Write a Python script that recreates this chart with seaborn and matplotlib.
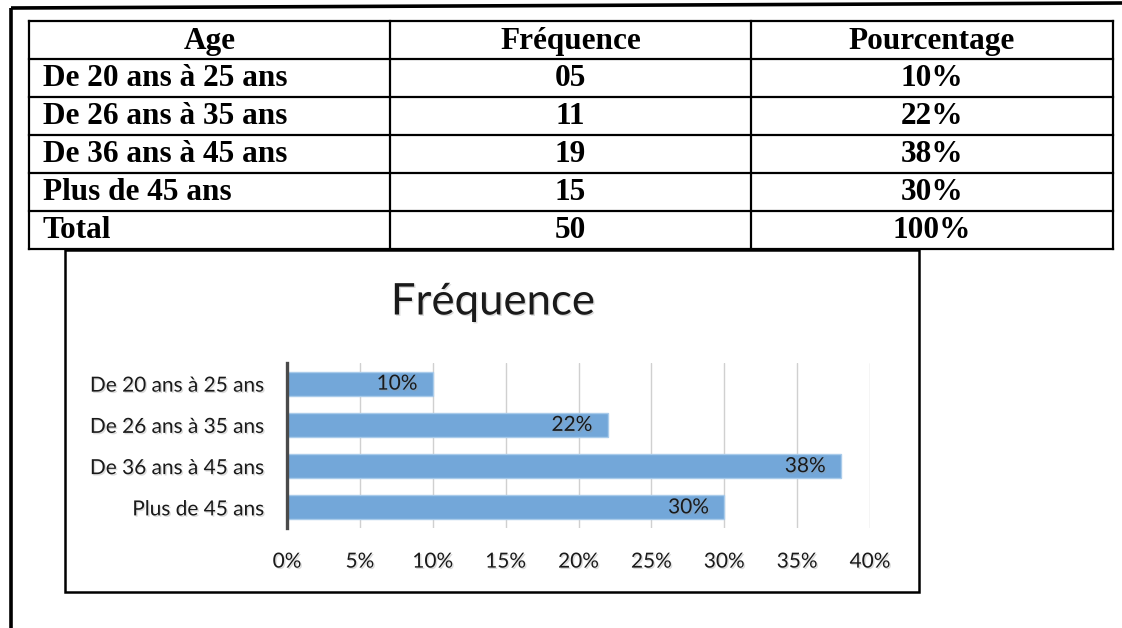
import matplotlib
matplotlib.use("Agg")
import matplotlib.pyplot as plt
import matplotlib.patheffects as pe
from matplotlib.ticker import FuncFormatter, MultipleLocator
import seaborn as sns
import pandas as pd

# Table / chart content
age_groups = ["De 20 ans à 25 ans", "De 26 ans à 35 ans", "De 36 ans à 45 ans", "Plus de 45 ans"]
frequencies = ["05", "11", "19", "15"]
percentages = [10, 22, 38, 30]
total_label = "Total"
total_frequency = "50"
total_percentage = 100
headers = ["Age", "Fréquence", "Pourcentage"]
chart_title = "Fréquence"

sns.set_theme(style="white")
plt.rcParams["font.family"] = ["Lato", "DejaVu Sans"]

W, H = 1122, 628
fig = plt.figure(figsize=(W / 100, H / 100), dpi=100)
fig.patch.set_facecolor("white")

# Overlay in pixel coordinates for the frame and the table
ov = fig.add_axes([0, 0, 1, 1])
ov.set_xlim(0, W)
ov.set_ylim(H, 0)
ov.axis("off")

# outer page frame
ov.plot([11, 11], [8, H], color="black", lw=2.6, solid_capstyle="butt")
ov.plot([11, W], [8, 3], color="black", lw=2.6, solid_capstyle="butt")

# table grid
tx0, tx1 = 29, 1113
col_x = [29, 390, 751, 1113]
row_y = [21, 59, 97, 135, 173, 211, 249]
for y in row_y:
    ov.plot([tx0, tx1], [y, y], color="black", lw=1.6, solid_capstyle="projecting")
for x in col_x:
    ov.plot([x, x], [row_y[0], row_y[-1]], color="black", lw=1.6, solid_capstyle="projecting")

serif = dict(family=["Liberation Serif", "DejaVu Serif"], weight="bold", size=22.5, color="black")
centers = [(col_x[i] + col_x[i + 1]) / 2 for i in range(3)]
for i, h in enumerate(headers):
    ov.text(centers[i], (row_y[0] + row_y[1]) / 2 + 1, h, ha="center", va="center", **serif)

rows = list(zip(age_groups, frequencies, [f"{p}%" for p in percentages]))
rows.append((total_label, total_frequency, f"{total_percentage}%"))
for r, (a, f, p) in enumerate(rows):
    yc = (row_y[r + 1] + row_y[r + 2]) / 2 + 1
    ov.text(43, yc, a, ha="left", va="center", **serif)
    ov.text(centers[1], yc, f, ha="center", va="center", **serif)
    ov.text(centers[2], yc, p, ha="center", va="center", **serif)

# chart frame
ov.add_patch(plt.Rectangle((65, 250), 919 - 65, 592 - 250, facecolor="white",
                           edgecolor="black", lw=1.8, zorder=1))

shadow = [pe.withSimplePatchShadow(offset=(1, -1), shadow_rgbFace="#999999", alpha=0.35)]

ov.text(493, 302, chart_title, ha="center", va="center", fontsize=31.5,
        color="#1a1a1a", path_effects=shadow, zorder=3)

# bar chart
ax = fig.add_axes([287 / W, 1 - 528 / H, (870 - 287) / W, (528 - 363) / H])
ax.set_facecolor("none")
df = pd.DataFrame({"age": age_groups, "pct": percentages})
sns.barplot(data=df, x="pct", y="age", orient="h", color="#73A7D9",
            edgecolor="#A9CBEA", linewidth=1, width=0.58, saturation=1, ax=ax, zorder=2)

ax.set_xlim(0, 40)
ax.set_ylim(3.5, -0.5)
ax.xaxis.set_major_locator(MultipleLocator(5))
ax.xaxis.set_major_formatter(FuncFormatter(lambda v, _: f"{v:.0f}%"))
ax.grid(axis="x", color="#D0D0D0", lw=1)
ax.set_axisbelow(True)
ax.set_xlabel("")
ax.set_ylabel("")
for s in ["top", "right", "bottom"]:
    ax.spines[s].set_visible(False)
ax.spines["left"].set_color("#4a4a4a")
ax.spines["left"].set_linewidth(2.4)
ax.spines["left"].set_zorder(5)
ax.tick_params(axis="x", length=0, pad=17, labelsize=15, labelcolor="#1a1a1a")
ax.tick_params(axis="y", length=0, pad=16, labelsize=15, labelcolor="#1a1a1a")
for lbl in ax.get_xticklabels() + ax.get_yticklabels():
    lbl.set_path_effects(shadow)

for i, v in enumerate(percentages):
    ax.annotate(f"{v}%", xy=(v, i), xytext=(-11, 0), textcoords="offset points",
                ha="right", va="center", fontsize=15, color="#1a1a1a",
                path_effects=shadow, zorder=6)

fig.savefig("out.png", dpi=100)
